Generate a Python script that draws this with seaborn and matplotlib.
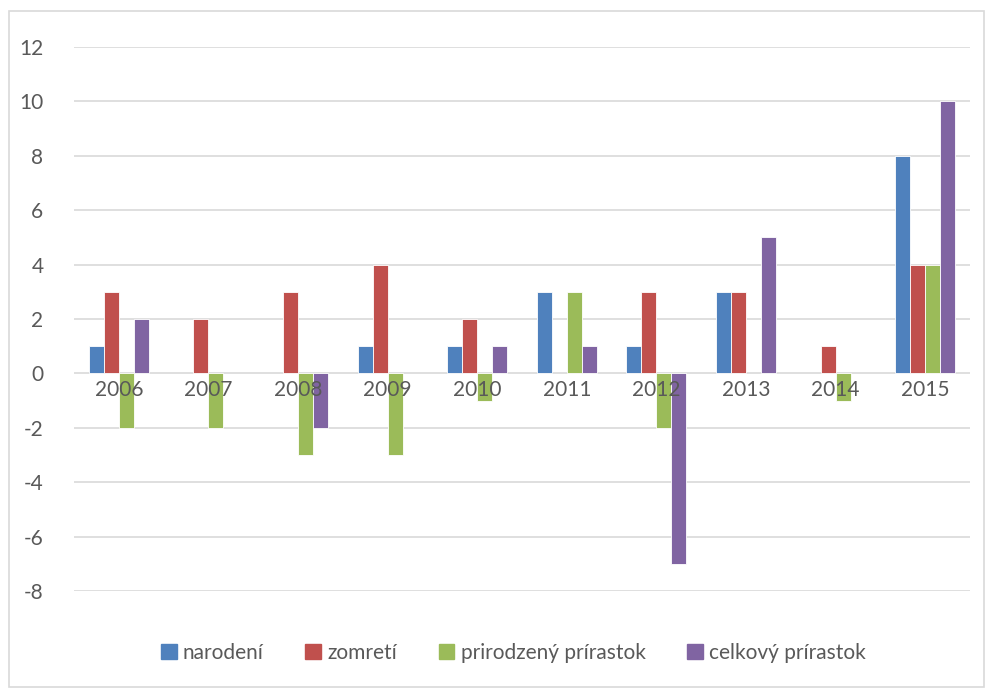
import numpy as np
import pandas as pd
import matplotlib
matplotlib.use('Agg')
import matplotlib.pyplot as plt
import matplotlib.patches as mpatches
import seaborn as sns

# ── Data ──────────────────────────────────────────────────────────────────────
years     = ['2006', '2007', '2008', '2009', '2010', '2011', '2012', '2013', '2014', '2015']
narodeni  = [1, 0, 0, 1, 1, 3, 1, 3, 0, 8]
zomreti   = [3, 2, 3, 4, 2, 0, 3, 3, 1, 4]
prirodzeny = [-2, -2, -3, -3, -1, 3, -2, 0, -1, 4]
celkovy   = [2, 0, -2, 0, 1, 1, -7, 5, 0, 10]
series_names = ['narodení', 'zomretí', 'prirodzený prírastok', 'celkový prírastok']
yticks = [-8, -6, -4, -2, 0, 2, 4, 6, 8, 10, 12]

COLORS = ['#4F81BD', '#C0504D', '#9BBB59', '#8064A2']

df = pd.DataFrame({
    'rok': years * 4,
    'séria': np.repeat(series_names, len(years)),
    'hodnota': narodeni + zomreti + prirodzeny + celkovy,
})
df = df[df['hodnota'] != 0]

# ── Style ─────────────────────────────────────────────────────────────────────
sns.set_style('white')
plt.rcParams['font.family'] = ['Lato', 'DejaVu Sans']
plt.rcParams['axes.unicode_minus'] = False
TXT = '#595959'

fig = plt.figure(figsize=(9.91, 6.89), dpi=100)
ax = fig.add_axes([74 / 991, 1 - 591 / 689, (970 - 74) / 991, (591 - 47) / 689])

sns.barplot(data=df, x='rok', y='hodnota', hue='séria', hue_order=series_names,
            order=years, palette=COLORS, saturation=1, width=0.67,
            edgecolor='white', linewidth=0.6, ax=ax, legend=False, zorder=3)

ax.set_ylim(-8, 12)
ax.set_yticks(yticks)
ax.set_xlim(-0.5, len(years) - 0.5)
for y in yticks:
    ax.axhline(y, color='#D9D9D9', linewidth=1.2, zorder=1)
ax.set_xlabel('')
ax.set_ylabel('')
for s in ax.spines.values():
    s.set_visible(False)
ax.tick_params(axis='y', length=0, pad=22, labelsize=15, labelcolor=TXT)
ax.set_xticks([])

# category labels sit just below the zero line (Excel style)
for i, yr in enumerate(years):
    ax.text(i, -0.25, yr, ha='center', va='top', fontsize=15, color=TXT, zorder=4)

# legend
handles = [mpatches.Patch(color=c, label=n) for c, n in zip(COLORS, series_names)]
fig.legend(handles=handles, loc='center', bbox_to_anchor=(0.518, 1 - 653 / 689),
           ncol=4, frameon=False, fontsize=15, labelcolor=TXT,
           handlelength=0.75, handleheight=0.75, handletextpad=0.3, columnspacing=2.0)

# chart frame
fig.patches.append(mpatches.Rectangle((9 / 991, 2 / 689), 975 / 991, 676 / 689,
                                      transform=fig.transFigure, fill=False,
                                      edgecolor='#D9D9D9', linewidth=1.2))

fig.savefig('out.png', dpi=100)
